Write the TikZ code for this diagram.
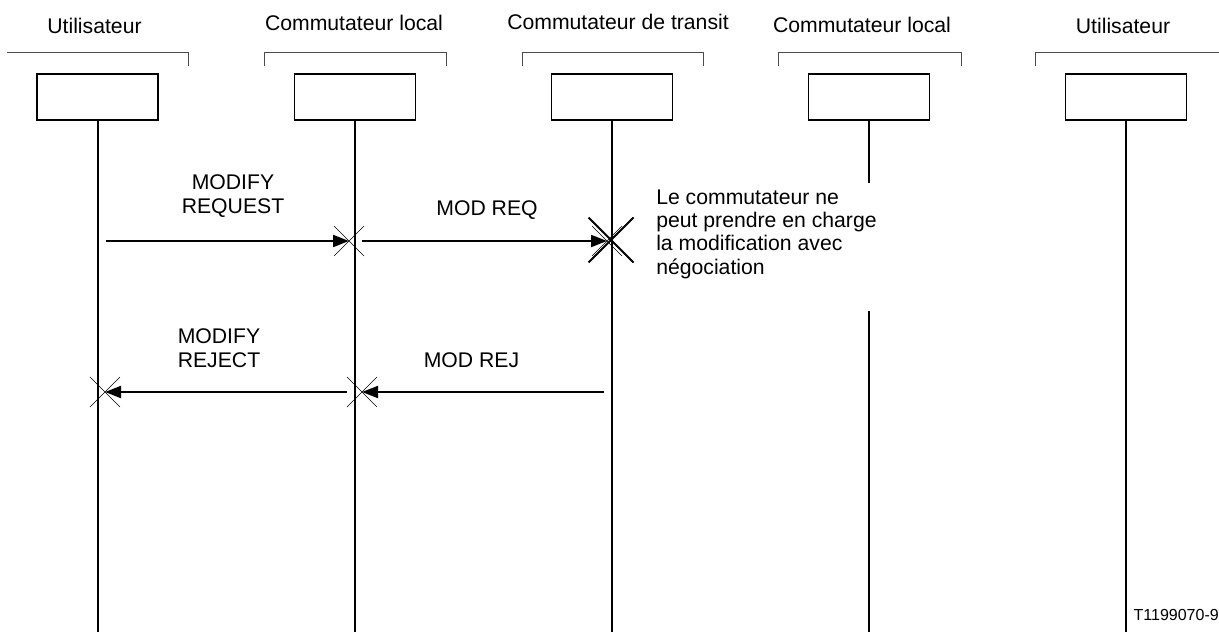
\documentclass[tikz,border=0pt]{standalone}
\usepackage{fontspec}
\setmainfont{Liberation Sans}
\usetikzlibrary{arrows.meta}
\begin{document}
\begin{tikzpicture}[x=0.75pt,y=-0.75pt,
  lbl/.style={font=\fontsize{15.9}{17.3}\selectfont, inner sep=0pt},
  small/.style={font=\fontsize{12}{14}\selectfont, inner sep=0pt},
  ent/.style={draw, line width=0.8pt, minimum width=90.75pt, minimum height=34.5pt, inner sep=0pt},
  life/.style={line width=1.5pt},
  msg/.style={line width=1.5pt, -{Triangle[length=12pt,width=9pt]}},
  brk/.style={draw=black!70, line width=0.75pt},
  xthin/.style={line width=0.5pt},
  xthick/.style={line width=1.4pt}]
\useasboundingbox (0,0) rectangle (1219,632);

% entity boxes
\node[ent] (b1) at (97.5,97) {};
\node[ent] (b2) at (355,97) {};
\node[ent] (b3) at (612,97) {};
\node[ent] (b4) at (869,97) {};
\node[ent] (b5) at (1126,97) {};

% lifeline ends
\coordinate (e1) at (97.5,632);
\coordinate (e2) at (355,632);
\coordinate (e3) at (612,632);
\coordinate (e4) at (869,632);
\coordinate (e5) at (1126,632);
\coordinate (g4a) at (869,183);
\coordinate (g4b) at (869,311);

\draw[life] (b1.south) -- (e1);
\draw[life] (b2.south) -- (e2);
\draw[life] (b3.south) -- (e3);
\draw[life] (b4.south) -- (g4a);
\draw[life] (g4b) -- (e4);
\draw[life] (b5.south) -- (e5);

% header brackets
\draw[brk] (7,52) -- (188,52) -- (188,66);
\draw[brk] (264,66) -- (264,52) -- (446,52) -- (446,66);
\draw[brk] (522,66) -- (522,52) -- (703,52) -- (703,66);
\draw[brk] (778,66) -- (778,52) -- (961,52) -- (961,66);
\draw[brk] (1035,66) -- (1035,52) -- (1219,52);

% header texts
\node[lbl, anchor=base] (h1) at (94.5,33) {Utilisateur};
\node[lbl, anchor=base] (h2) at (354,30) {Commutateur local};
\node[lbl, anchor=base] (h3) at (618,29) {Commutateur de transit};
\node[lbl, anchor=base] (h4) at (862,32) {Commutateur local};
\node[lbl, anchor=base] (h5) at (1123,33) {Utilisateur};

% message coordinates
\coordinate (m1s) at (106,241);
\coordinate (m1e) at (349,241);
\coordinate (m2s) at (362,241);
\coordinate (m2e) at (607,241);
\coordinate (r1s) at (604,392);
\coordinate (r1e) at (362,392);
\coordinate (r2s) at (347,392);
\coordinate (r2e) at (105,392);

\draw[msg] (m1s) -- (m1e);
\draw[msg] (m2s) -- (m2e);
\draw[msg] (r1s) -- (r1e);
\draw[msg] (r2s) -- (r2e);

% crosses
\draw[xthin] ([shift={(-15,-15)}]m1e) -- ([shift={(15,15)}]m1e)
             ([shift={(-15,15)}]m1e) -- ([shift={(15,-15)}]m1e);
\draw[xthin] ([shift={(-15,-15)}]m2e) -- ([shift={(15,15)}]m2e)
             ([shift={(-15,15)}]m2e) -- ([shift={(15,-15)}]m2e);
\coordinate (xx) at (611,240);
\draw[xthick] ([shift={(-22.5,-22.5)}]xx) -- ([shift={(22.5,22.5)}]xx)
              ([shift={(-22.5,22.5)}]xx) -- ([shift={(22.5,-22.5)}]xx);
\draw[xthin] ([shift={(-15,-15)}]r1e) -- ([shift={(15,15)}]r1e)
             ([shift={(-15,15)}]r1e) -- ([shift={(15,-15)}]r1e);
\draw[xthin] ([shift={(-15,-15)}]r2e) -- ([shift={(15,15)}]r2e)
             ([shift={(-15,15)}]r2e) -- ([shift={(15,-15)}]r2e);

% message labels (base = baseline of last line)
\node[lbl, anchor=base, align=center] (l1) at (233,213) {MODIFY\\REQUEST};
\node[lbl, anchor=base] (l2) at (487,215) {MOD REQ};
\node[lbl, anchor=base, align=center] (l3) at (219,367) {MODIFY\\REJECT};
\node[lbl, anchor=base] (l4) at (471.5,367) {MOD REJ};

% note
\node[lbl, anchor=base west, align=left] (note) at (656,274)
  {Le commutateur ne\\peut prendre en charge\\la modification avec\\négociation};

\node[small, anchor=base east] (id) at (1219,620) {T1199070-9};
\end{tikzpicture}
\end{document}
